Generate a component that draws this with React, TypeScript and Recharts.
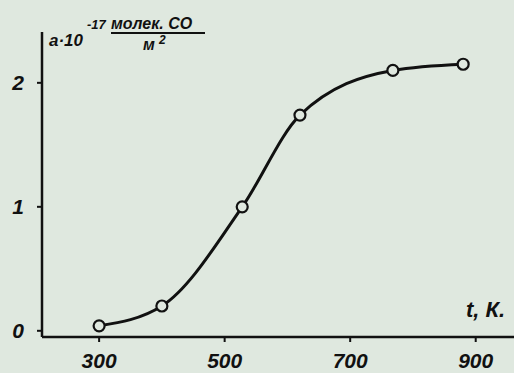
import { LineChart, Line, XAxis, YAxis, Customized } from 'recharts';

const temperatures = [300, 400, 528, 620, 768, 880];
const adsorption = [0.04, 0.2, 1.0, 1.74, 2.1, 2.15];
const xTicks = [300, 500, 700, 900];
const yTicks = [0, 1, 2];

const data = temperatures.map((t, i) => ({ t, a: adsorption[i] }));

const BG = '#dfe8df';
const INK = '#111';
const FONT = '"Liberation Sans", Arial, sans-serif';

const tickStyle = {
  fill: INK,
  fontSize: 21,
  fontWeight: 700,
  fontStyle: 'italic',
  fontFamily: FONT,
};

const AxisTitles = () => (
  <g fill={INK} fontFamily={FONT} fontWeight={700} fontStyle="italic">
    <text x={49} y={46} fontSize={17}>a·10</text>
    <text x={87} y={29} fontSize={13}>-17</text>
    <text x={111} y={29} fontSize={16}>молек. CO</text>
    <line x1={111} y1={33} x2={205} y2={33} stroke={INK} strokeWidth={2} />
    <text x={143} y={50} fontSize={16}>м</text>
    <text x={159} y={44} fontSize={12}>2</text>
    <text x={466} y={317} fontSize={22}>t, К.</text>
  </g>
);

export default function App() {
  return (
    <div style={{ position: 'absolute', left: 0, top: 0, width: 514, height: 373, background: BG }}>
      <LineChart width={514} height={373} data={data} margin={{ top: 32, right: 0, left: 0, bottom: 0 }}>
        <XAxis
          dataKey="t"
          type="number"
          domain={[209, 961]}
          ticks={xTicks}
          height={36}
          tickSize={5}
          tickMargin={11}
          tick={tickStyle}
          axisLine={{ stroke: INK, strokeWidth: 2.5 }}
          tickLine={{ stroke: INK, strokeWidth: 2 }}
        />
        <YAxis
          type="number"
          domain={[-0.05, 2.41]}
          ticks={yTicks}
          width={42}
          tickSize={5}
          tickMargin={13}
          tick={tickStyle}
          axisLine={{ stroke: INK, strokeWidth: 2.5 }}
          tickLine={{ stroke: INK, strokeWidth: 2 }}
        />
        <Line
          dataKey="a"
          type="monotone"
          stroke={INK}
          strokeWidth={3}
          dot={{ r: 5.5, fill: BG, stroke: INK, strokeWidth: 2.2 }}
          isAnimationActive={false}
        />
        <Customized component={AxisTitles} />
      </LineChart>
    </div>
  );
}
